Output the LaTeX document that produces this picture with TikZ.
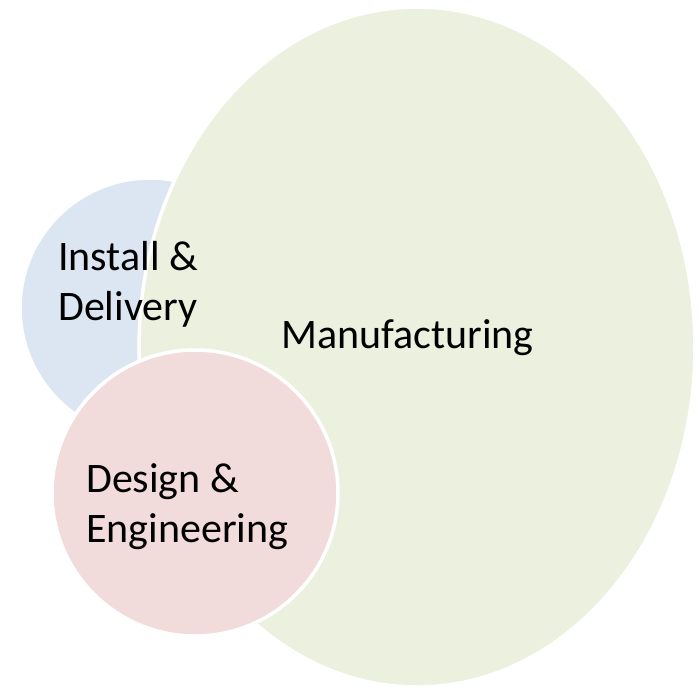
\documentclass[tikz,border=0pt]{standalone}
\usepackage{fontspec}
\setmainfont{Carlito}
\usepackage{tikz}
\definecolor{installblue}{HTML}{DCE6F2}
\definecolor{makegreen}{HTML}{EBF1DE}
\definecolor{designred}{HTML}{F2DCDB}
\tikzstyle{blob} = [draw=white, line width=3.5pt]
\tikzstyle{label} = [anchor=base west, align=left, inner sep=0pt,
font=\fontsize{42}{50}\selectfont, text=black]

\begin{document}
\begin{tikzpicture}[x=1pt, y=-1pt]

\useasboundingbox (0,0) rectangle (698,687);
\path[blob, fill=installblue] (150,308) circle (130);
\path[blob, fill=makegreen] (417,347) ellipse (278 and 340);
\path[blob, fill=designred] (195,493) circle (143);

\node(install)[label] at (58,320) {Install \&\\Delivery};
\node(make)[label] at (281,348) {Manufacturing};
\node(design)[label] at (86,542) {Design \&\\Engineering};

\end{tikzpicture}
\end{document}
